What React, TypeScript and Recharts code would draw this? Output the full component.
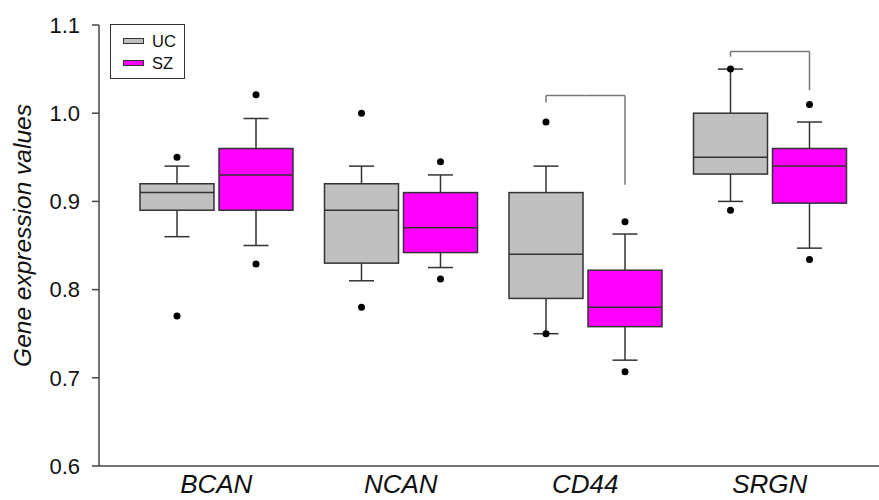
import { Bar, ComposedChart, Legend, XAxis, YAxis } from 'recharts';

const categories = ['BCAN', 'NCAN', 'CD44', 'SRGN'];

// UC (control) boxes
const ucQ1 = [0.89, 0.83, 0.79, 0.931];
const ucMedian = [0.91, 0.89, 0.84, 0.95];
const ucQ3 = [0.92, 0.92, 0.91, 1.0];
const ucWhiskerLow = [0.86, 0.81, 0.75, 0.9];
const ucWhiskerHigh = [0.94, 0.94, 0.94, 1.05];
const ucOutlierLow = [0.77, 0.78, 0.75, 0.89];
const ucOutlierHigh = [0.95, 1.0, 0.99, 1.05];

// SZ boxes
const szQ1 = [0.89, 0.842, 0.758, 0.898];
const szMedian = [0.93, 0.87, 0.78, 0.94];
const szQ3 = [0.96, 0.91, 0.822, 0.96];
const szWhiskerLow = [0.85, 0.825, 0.72, 0.847];
const szWhiskerHigh = [0.994, 0.93, 0.863, 0.99];
const szOutlierLow = [0.829, 0.812, 0.707, 0.834];
const szOutlierHigh = [1.021, 0.945, 0.877, 1.01];

// significance brackets
const bracketTop = [null, null, 1.02, 1.07];
const ucBracketEnd = [null, null, 1.012, 1.064];
const szBracketEnd = [null, null, 0.919, 1.026];

const yTicks = [0.6, 0.7, 0.8, 0.9, 1.0, 1.1];

const BAR_GAP = 5;
const FONT = '"Liberation Sans", Arial, sans-serif';

type Box = {
  q1: number;
  median: number;
  q3: number;
  lo: number;
  hi: number;
  outLo: number;
  outHi: number;
  bracket: number | null;
  bracketEnd: number | null;
};

const makeBox = (i: number, side: 'uc' | 'sz'): Box =>
  side === 'uc'
    ? {
        q1: ucQ1[i],
        median: ucMedian[i],
        q3: ucQ3[i],
        lo: ucWhiskerLow[i],
        hi: ucWhiskerHigh[i],
        outLo: ucOutlierLow[i],
        outHi: ucOutlierHigh[i],
        bracket: bracketTop[i],
        bracketEnd: ucBracketEnd[i]
      }
    : {
        q1: szQ1[i],
        median: szMedian[i],
        q3: szQ3[i],
        lo: szWhiskerLow[i],
        hi: szWhiskerHigh[i],
        outLo: szOutlierLow[i],
        outHi: szOutlierHigh[i],
        bracket: bracketTop[i],
        bracketEnd: szBracketEnd[i]
      };

// full vertical extent of one box (outliers and bracket included)
const spanOf = (b: Box): [number, number] => [
  Math.min(b.lo, b.outLo),
  Math.max(b.hi, b.outHi, b.bracket ?? -Infinity)
];

const data = categories.map((name, i) => ({ name, uc: makeBox(i, 'uc'), sz: makeBox(i, 'sz') }));

function BoxShape(props: any) {
  const { x, y, width, height, side, fill } = props;
  const box: Box = props.payload[side];
  const [vMin, vMax] = spanOf(box);
  const py = (v: number) => y + ((vMax - v) / (vMax - vMin)) * height;
  const cx = x + width / 2;
  const cap = 12.5;
  const stroke = '#333';

  return (
    <g>
      {box.bracket !== null && box.bracketEnd !== null && (
        <g stroke="#777" strokeWidth={1.5} fill="none">
          <line x1={cx} x2={cx} y1={py(box.bracket)} y2={py(box.bracketEnd)} />
          {side === 'uc' ? (
            <line x1={cx} x2={x + width + BAR_GAP / 2} y1={py(box.bracket)} y2={py(box.bracket)} />
          ) : (
            <line x1={x - BAR_GAP / 2} x2={cx} y1={py(box.bracket)} y2={py(box.bracket)} />
          )}
        </g>
      )}
      <g stroke={stroke} strokeWidth={1.5}>
        <line x1={cx} x2={cx} y1={py(box.hi)} y2={py(box.q3)} />
        <line x1={cx} x2={cx} y1={py(box.q1)} y2={py(box.lo)} />
        <line x1={cx - cap} x2={cx + cap} y1={py(box.hi)} y2={py(box.hi)} />
        <line x1={cx - cap} x2={cx + cap} y1={py(box.lo)} y2={py(box.lo)} />
        <rect x={x} y={py(box.q3)} width={width} height={py(box.q1) - py(box.q3)} fill={fill} />
        <line x1={x} x2={x + width} y1={py(box.median)} y2={py(box.median)} />
      </g>
      <circle cx={cx} cy={py(box.outHi)} r={3.5} fill="#000" />
      <circle cx={cx} cy={py(box.outLo)} r={3.5} fill="#000" />
    </g>
  );
}

function BoxLegend() {
  const items = [
    { label: 'UC', color: '#c0c0c0' },
    { label: 'SZ', color: '#ff00ff' }
  ];
  return (
    <div
      style={{
        border: '1.5px solid #333',
        background: '#fff',
        padding: '5px 8px 4px 12px',
        fontFamily: FONT,
        fontSize: 16.5,
        color: '#111',
        lineHeight: '22px'
      }}
    >
      {items.map((item) => (
        <div key={item.label} style={{ display: 'flex', alignItems: 'center' }}>
          <span
            style={{
              display: 'inline-block',
              width: 19,
              height: 4,
              background: item.color,
              border: '1.5px solid #333',
              marginRight: 8
            }}
          />
          {item.label}
        </div>
      ))}
    </div>
  );
}

function YLabel(props: any) {
  const vb = props.viewBox || { x: 0, y: 25, height: 441 };
  const cx = vb.x + 22;
  const cy = vb.y + vb.height / 2 - 10;
  return (
    <text
      x={cx}
      y={cy}
      transform={`rotate(-90, ${cx}, ${cy})`}
      textAnchor="middle"
      dominantBaseline="central"
      fontSize={24.5}
      fontStyle="italic"
      fill="#111"
      fontFamily={FONT}
    >
      Gene expression values
    </text>
  );
}

export default function App() {
  return (
    <div style={{ position: 'absolute', left: 0, top: 0, fontFamily: FONT }}>
      <ComposedChart
        width={879}
        height={500}
        data={data}
        margin={{ top: 25, right: 0, bottom: 0, left: 0 }}
        barSize={74}
        barGap={BAR_GAP}
      >
        <XAxis
          dataKey="name"
          height={34}
          padding={{ left: 25, right: 17 }}
          axisLine={{ stroke: '#444', strokeWidth: 1.5 }}
          tickLine={false}
          tickSize={0}
          tickMargin={9}
          tick={{ fontSize: 26, fontStyle: 'italic', fill: '#111', fontFamily: FONT }}
        />
        <YAxis
          width={99}
          domain={[0.6, 1.1]}
          ticks={yTicks}
          allowDataOverflow
          tickFormatter={(v: number) => v.toFixed(1)}
          axisLine={{ stroke: '#444', strokeWidth: 1.5 }}
          tickLine={{ stroke: '#444', strokeWidth: 1.5 }}
          tickSize={7}
          tickMargin={12}
          tick={{ fontSize: 22, fill: '#111', fontFamily: FONT }}
          label={<YLabel />}
        />
        <Legend
          layout="vertical"
          align="center"
          verticalAlign="middle"
          wrapperStyle={{ left: 110, top: 24, width: 'auto' }}
          content={() => <BoxLegend />}
        />
        <Bar
          dataKey={(d: any) => spanOf(d.uc)}
          name="UC"
          fill="#c0c0c0"
          isAnimationActive={false}
          shape={(p: any) => <BoxShape {...p} side="uc" fill="#c0c0c0" />}
        />
        <Bar
          dataKey={(d: any) => spanOf(d.sz)}
          name="SZ"
          fill="#ff00ff"
          isAnimationActive={false}
          shape={(p: any) => <BoxShape {...p} side="sz" fill="#ff00ff" />}
        />
      </ComposedChart>
    </div>
  );
}
